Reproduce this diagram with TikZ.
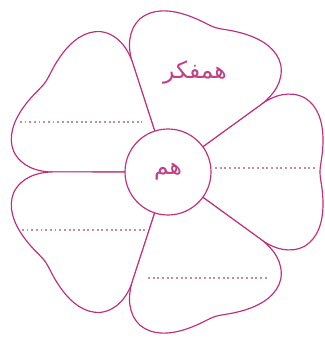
\documentclass[tikz,border=0pt]{standalone}
\usepackage{fontspec}
\newfontfamily\arabicfont[Script=Arabic]{DejaVu Sans}
\TeXXeTstate=1
\definecolor{flpink}{HTML}{C02F78}
\definecolor{fldot}{HTML}{BD8EA4}
\definecolor{fltext}{HTML}{C23F84}

\begin{document}
\begin{tikzpicture}[x=0.03cm,y=0.03cm,
 petal/.style={draw=flpink,line width=1pt,fill=white,line join=round},
 core/.style={circle,draw=flpink,line width=1pt,fill=white,minimum size=2.58cm,inner sep=0pt},
 blankline/.style={draw=fldot,line width=2pt,dash pattern=on 0.055cm off 0.085cm},
 word/.style={text=fltext,font=\arabicfont\fontsize{20}{22}\selectfont}
]
\useasboundingbox (-168,-168) rectangle (156,172);
% five petals, one every 72 degrees
\foreach \ang in {0,72,144,216,288}
  \draw[petal,rotate=\ang] (0,0) -- (92,67)
    .. controls (106,77) and (122,82) .. (137,74)
    .. controls (150,66) and (155,50) .. (155,32)
    .. controls (155,16) and (152,8) .. (152,0)
    .. controls (152,-8) and (155,-16) .. (155,-32)
    .. controls (155,-50) and (150,-66) .. (137,-74)
    .. controls (122,-82) and (106,-77) .. (92,-67) -- cycle;
% lines to write on
\draw[blankline] (-148,50) -- (-26,50);
\draw[blankline] (47,4) -- (149,4);
\draw[blankline] (-146,-58) -- (-23,-58);
\draw[blankline] (-20,-106) -- (100,-106);
\node[core,word] (core) at (0,0) {\beginR هم\endR};
\node[word] (thinker) at (27,100) {\beginR همفکر\endR};
\end{tikzpicture}
\end{document}
